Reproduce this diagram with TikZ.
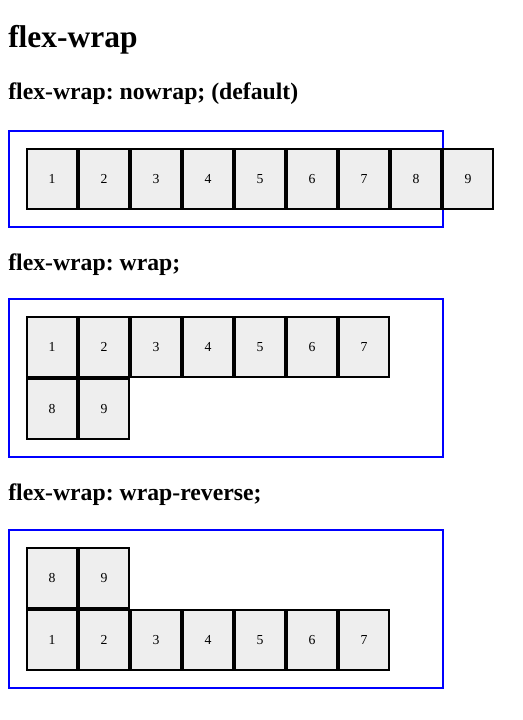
\documentclass[tikz,border=0pt]{standalone}
\usepackage{fontspec}
\setmainfont{Liberation Serif}
\definecolor{boxgray}{HTML}{EEEEEE}
\definecolor{flexblue}{HTML}{0000FF}
\frenchspacing
\begin{document}
\begin{tikzpicture}[x=0.75pt,y=-0.75pt,
  container/.style={draw=flexblue,line width=1.5pt,rectangle,inner sep=0pt,minimum width=325.5pt},
  item/.style={draw=black,fill=boxgray,line width=1.5pt,rectangle,inner sep=0pt,
    minimum width=37.5pt,minimum height=45pt,font=\fontsize{10.3pt}{12pt}\selectfont},
  htitle/.style={anchor=base west,inner sep=0pt,font=\fontsize{23.6pt}{28pt}\selectfont\bfseries},
  hsub/.style={anchor=base west,inner sep=0pt,font=\fontsize{17.8pt}{21pt}\selectfont\bfseries}]
\fill[white] (0,0) rectangle (522,720);
\useasboundingbox (0,0) rectangle (522,720);

\node[htitle] (title) at (8,48) {flex-wrap};

% nowrap
\node[hsub] (h1) at (8,100) {flex-wrap: nowrap; (default)};
\node[container,minimum height=72pt] (c1) at (226,179) {};
\foreach \i in {1,...,9}{
  \node[item] (a\i) at ({52+52*(\i-1)},179) {\i};
}

% wrap
\node[hsub] (h2) at (8,270.5) {flex-wrap: wrap;};
\node[container,minimum height=118.5pt] (c2) at (226,378) {};
\foreach \i in {1,...,7}{
  \node[item] (b\i) at ({52+52*(\i-1)},347) {\i};
}
\node[item] (b8) at (52,409) {8};
\node[item] (b9) at (104,409) {9};

% wrap-reverse
\node[hsub] (h3) at (8,500.5) {flex-wrap: wrap-reverse;};
\node[container,minimum height=118.5pt] (c3) at (226,609) {};
\node[item] (r8) at (52,578) {8};
\node[item] (r9) at (104,578) {9};
\foreach \i in {1,...,7}{
  \node[item] (r\i) at ({52+52*(\i-1)},640) {\i};
}
\end{tikzpicture}
\end{document}
